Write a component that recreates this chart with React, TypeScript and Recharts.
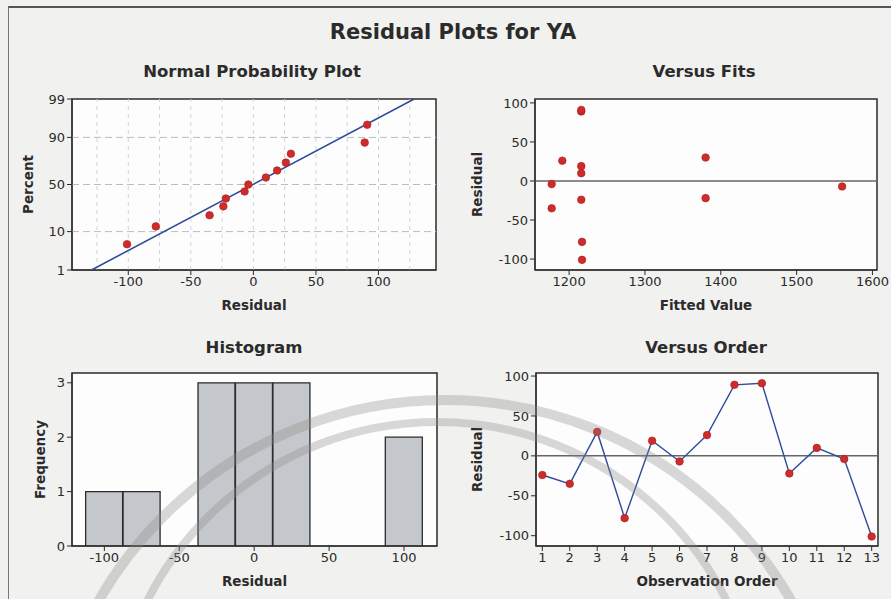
import React from "react";
import {
  ScatterChart,
  Scatter,
  ComposedChart,
  Bar,
  XAxis,
  YAxis,
  CartesianGrid,
  ReferenceLine,
  ReferenceArea,
} from "recharts";

const FONT = "'DejaVu Sans', Verdana, sans-serif";
const INK = "#2b2b2b";
const RED = "#cf2b2b";
const BLUE = "#2f4c9c";

// residuals and fits, in observation order
const observations = [1, 2, 3, 4, 5, 6, 7, 8, 9, 10, 11, 12, 13];
const residuals = [-24, -35, 30, -78, 19, -7, 26, 89, 91, -22, 10, -4, -101];
const fittedValues = [1216, 1177, 1380, 1217, 1216, 1560, 1191, 1216, 1216, 1380, 1216, 1177, 1217];

// normal probability plot: percent for each sorted residual
const plotPercents = [5.2, 12.7, 20.1, 27.6, 35.1, 42.5, 50, 57.5, 64.9, 72.4, 79.9, 87.3, 94.8];
const percentTicks = [1, 10, 50, 90, 99];
const percentGrid = [10, 50, 90];
const residualGrid = [-125, -100, -75, -50, -25, 0, 25, 50, 75, 100, 125];

// histogram bins (width 25)
const binMids = [-100, -75, -50, -25, 0, 25, 50, 75, 100];
const binCounts = [1, 1, 0, 3, 3, 3, 0, 0, 2];

// inverse standard normal (Abramowitz & Stegun 26.2.23)
const zOf = (pct: number) => {
  const p = pct / 100;
  const q = p < 0.5 ? p : 1 - p;
  const t = Math.sqrt(-2 * Math.log(q));
  const z = t - (2.515517 + 0.802853 * t + 0.010328 * t * t) / (1 + 1.432788 * t + 0.189269 * t * t + 0.001308 * t * t * t);
  return p < 0.5 ? -z : z;
};

const sorted = [...residuals].sort((a, b) => a - b);
const probData = sorted.map((r, i) => ({ x: r, z: zOf(plotPercents[i]) }));

const mean = residuals.reduce((s, v) => s + v, 0) / residuals.length;
const sd = Math.sqrt(residuals.reduce((s, v) => s + (v - mean) ** 2, 0) / (residuals.length - 1));
const fitLine = [1, 99].map((p) => ({ x: mean + sd * zOf(p), z: zOf(p) }));

const fitsData = residuals.map((r, i) => ({ x: fittedValues[i], y: r }));
const orderData = residuals.map((r, i) => ({ x: observations[i], y: r }));
const histData = binMids.map((m, i) => ({ mid: m, count: binCounts[i] }));

const tickStyle = { fontSize: 13, fill: INK, fontFamily: FONT };
const xLabel = (value: string) => ({
  value,
  position: "insideBottom" as const,
  offset: 0,
  fontSize: 13.5,
  fontWeight: 700,
  fill: INK,
  fontFamily: FONT,
});
const yLabel = (value: string, offset: number) => ({
  value,
  angle: -90,
  position: "insideLeft" as const,
  offset,
  style: { textAnchor: "middle" },
  fontSize: 13.5,
  fontWeight: 700,
  fill: INK,
  fontFamily: FONT,
});

const Dot = (p: any) => <circle cx={p.cx} cy={p.cy} r={3.8} fill={RED} stroke="#a51d1d" strokeWidth={0.6} />;
const NoDot = () => <g />;

const panelTitle = (text: string, cx: number, top: number) => (
  <div
    style={{
      position: "absolute",
      left: cx - 150,
      top,
      width: 300,
      textAlign: "center",
      fontFamily: FONT,
      fontWeight: 700,
      fontSize: 16.5,
      color: INK,
    }}
  >
    {text}
  </div>
);

const frame = (x1: number, x2: number, y1: number, y2: number) => (
  <ReferenceArea x1={x1} x2={x2} y1={y1} y2={y2} fill="none" stroke={INK} strokeWidth={1.5} ifOverflow="visible" />
);

export default function App() {
  return (
    <div
      style={{
        position: "fixed",
        left: 0,
        top: 0,
        width: 891,
        height: 599,
        background: "#f1f1ef",
        overflow: "hidden",
      }}
    >
      <div style={{ position: "absolute", left: 8, top: 6, right: 0, bottom: 0, borderTop: "2px solid #555", borderLeft: "1.5px solid #777" }} />
      <div
        style={{
          position: "absolute",
          left: 0,
          top: 20,
          width: 906,
          textAlign: "center",
          fontFamily: FONT,
          fontWeight: 700,
          fontSize: 21,
          color: INK,
        }}
      >
        Residual Plots for YA
      </div>

      {panelTitle("Normal Probability Plot", 252, 62)}
      {panelTitle("Versus Fits", 704, 62)}
      {panelTitle("Histogram", 254, 338)}
      {panelTitle("Versus Order", 706, 338)}

      {/* normal probability plot */}
      <div style={{ position: "absolute", left: 0, top: 60 }}>
        <ScatterChart width={445} height={270} margin={{ top: 39, right: 9, bottom: 20, left: 22 }}>
          <CartesianGrid fill="#fdfdfd" horizontal={false} vertical={false} />
          {residualGrid.map((g) => (
            <ReferenceLine key={"v" + g} x={g} stroke="#cfd3dc" strokeDasharray="4 4" />
          ))}
          {percentGrid.map((g) => (
            <ReferenceLine key={"h" + g} y={zOf(g)} stroke="#b9bcc4" strokeDasharray="7 4" />
          ))}
          <XAxis
            type="number"
            dataKey="x"
            domain={[-145, 146]}
            ticks={[-100, -50, 0, 50, 100]}
            allowDataOverflow
            height={40}
            tick={tickStyle}
            tickSize={5}
            stroke={INK}
            label={xLabel("Residual")}
          />
          <YAxis
            type="number"
            dataKey="z"
            domain={[zOf(1), zOf(99)]}
            ticks={percentTicks.map(zOf)}
            tickFormatter={(v: number) => String(percentTicks[percentTicks.map(zOf).findIndex((t) => Math.abs(t - v) < 1e-6)])}
            allowDataOverflow
            width={50}
            tick={tickStyle}
            tickSize={5}
            stroke={INK}
            label={yLabel("Percent", 6)}
          />
          <Scatter data={fitLine} line={{ stroke: BLUE, strokeWidth: 1.6 }} shape={NoDot} isAnimationActive={false} />
          <Scatter data={probData} shape={Dot} isAnimationActive={false} />
          {frame(-145, 146, zOf(1), zOf(99))}
        </ScatterChart>
      </div>

      {/* versus fits */}
      <div style={{ position: "absolute", left: 445, top: 60 }}>
        <ScatterChart width={446} height={270} margin={{ top: 39, right: 14, bottom: 20, left: 40 }}>
          <CartesianGrid fill="#fdfdfd" horizontal={false} vertical={false} />
          <ReferenceLine y={0} stroke="#666" strokeWidth={1.5} />
          <XAxis
            type="number"
            dataKey="x"
            domain={[1155, 1606]}
            ticks={[1200, 1300, 1400, 1500, 1600]}
            allowDataOverflow
            height={40}
            tick={tickStyle}
            tickSize={5}
            stroke={INK}
            label={xLabel("Fitted Value")}
          />
          <YAxis
            type="number"
            dataKey="y"
            domain={[-114, 105]}
            ticks={[-100, -50, 0, 50, 100]}
            allowDataOverflow
            width={50}
            tick={tickStyle}
            tickSize={5}
            stroke={INK}
            label={yLabel("Residual", -8)}
          />
          <Scatter data={fitsData} shape={Dot} isAnimationActive={false} />
          {frame(1155, 1606, -114, 105)}
        </ScatterChart>
      </div>

      {/* histogram */}
      <div style={{ position: "absolute", left: 0, top: 330 }}>
        <ComposedChart
          width={445}
          height={269}
          data={histData}
          margin={{ top: 43, right: 8, bottom: 13, left: 22 }}
          barCategoryGap={0}
          barGap={0}
        >
          <CartesianGrid fill="#fdfdfd" horizontal={false} vertical={false} />
          <XAxis
            type="number"
            dataKey="mid"
            domain={[-121.6, 122]}
            ticks={[-100, -50, 0, 50, 100]}
            allowDataOverflow
            height={40}
            tick={tickStyle}
            tickSize={5}
            stroke={INK}
            label={xLabel("Residual")}
          />
          <YAxis
            type="number"
            domain={[0, 3.18]}
            ticks={[0, 1, 2, 3]}
            allowDataOverflow
            width={50}
            tick={tickStyle}
            tickSize={5}
            stroke={INK}
            label={yLabel("Frequency", 18)}
          />
          <Bar dataKey="count" fill="#c4c7cb" stroke={INK} strokeWidth={1.3} isAnimationActive={false} />
          {frame(-121.6, 122, 0, 3.18)}
        </ComposedChart>
      </div>

      {/* versus order */}
      <div style={{ position: "absolute", left: 445, top: 330 }}>
        <ScatterChart width={446} height={269} margin={{ top: 43, right: 13, bottom: 13, left: 41 }}>
          <CartesianGrid fill="#fdfdfd" horizontal={false} vertical={false} />
          <ReferenceLine y={0} stroke="#666" strokeWidth={1.5} />
          <XAxis
            type="number"
            dataKey="x"
            domain={[0.77, 13.23]}
            ticks={observations}
            allowDataOverflow
            height={40}
            tick={tickStyle}
            tickSize={5}
            stroke={INK}
            label={xLabel("Observation Order")}
          />
          <YAxis
            type="number"
            dataKey="y"
            domain={[-112.9, 103.8]}
            ticks={[-100, -50, 0, 50, 100]}
            allowDataOverflow
            width={50}
            tick={tickStyle}
            tickSize={5}
            stroke={INK}
            label={yLabel("Residual", -9)}
          />
          <Scatter data={orderData} line={{ stroke: BLUE, strokeWidth: 1.4 }} lineJointType="linear" shape={Dot} isAnimationActive={false} />
          {frame(0.77, 13.23, -112.9, 103.8)}
        </ScatterChart>
      </div>

      {/* faint seal watermark printed across the lower half of the page */}
      <svg width={891} height={599} style={{ position: "absolute", left: 0, top: 0, pointerEvents: "none" }}>
        <g fill="none" stroke="#8a8a8a" strokeOpacity={0.32}>
          <circle cx={445} cy={799} r={399} strokeWidth={10} />
          <circle cx={437} cy={746} r={324} strokeWidth={8} />
        </g>
      </svg>
    </div>
  );
}
